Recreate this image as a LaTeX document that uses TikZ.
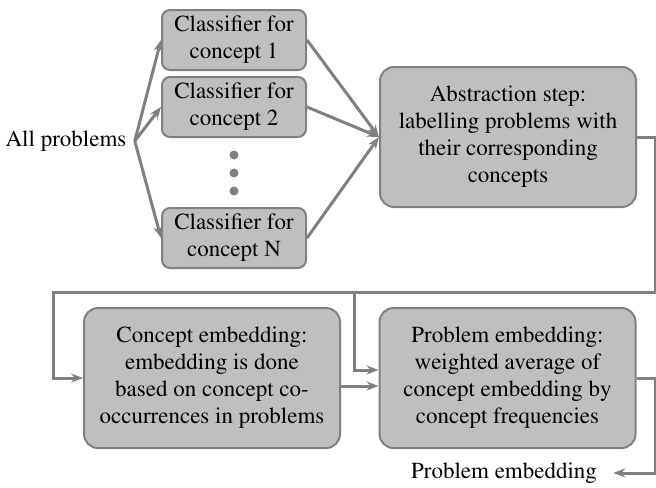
\documentclass[tikz,border=0pt]{standalone}
\usepackage[T1]{fontenc}
\usepackage{mathptmx}
\usetikzlibrary{arrows.meta}
\definecolor{lc}{gray}{0.5}
\definecolor{bf}{gray}{0.75}
\begin{document}
\begin{tikzpicture}[x=0.5pt,y=-0.5pt,
  txt/.style={font=\fontsize{11.5}{13.5}\selectfont},
  box/.style={txt, draw=lc, fill=bf, line width=1pt, rounded corners=7pt, align=center, inner sep=0pt},
  smallbox/.style={box, minimum width=72pt, minimum height=30pt, rounded corners=4pt},
  bigbox/.style={box, minimum width=128pt, minimum height=70pt},
  conn/.style={draw=lc, line width=1.5pt, -{Stealth[length=6pt,width=4.5pt,inset=2pt]}},
  dotn/.style={circle, fill=lc, inner sep=0pt, minimum size=4.5pt}]
\useasboundingbox (0,0) rectangle (656,487);
% nodes
\node[txt, inner xsep=4pt] (allp) at (66,141) {All problems};
\node[smallbox] (c1) at (234,40) {Classifier for\\concept 1};
\node[smallbox] (c2) at (234,107) {Classifier for\\concept 2};
\node[smallbox] (cN) at (234,238) {Classifier for\\concept N};
\node[dotn] (d1) at (234,155) {};
\node[dotn] (d2) at (234,173) {};
\node[dotn] (d3) at (234,191) {};
\node[bigbox] (abs) at (508,137) {Abstraction step:\\labelling problems with\\their corresponding\\concepts};
\node[bigbox] (ce) at (212,378) {Concept embedding:\\embedding is done\\based on concept co-\\occurrences in problems};
\node[bigbox] (pe) at (507.5,378) {Problem embedding:\\weighted average of\\concept embedding by\\concept frequencies};
\node[txt, inner xsep=8pt, inner ysep=1pt] (out) at (504,473) {Problem embedding};
% bend points
\coordinate (a1) at (655,137);
\coordinate (a2) at (655,292);
\coordinate (a3) at (53,292);
\coordinate (a4) at (53,378);
\coordinate (b1) at (354,292);
\coordinate (b2) at (354,370);
\coordinate (p1) at (655,378);
\coordinate (p2) at (655,473);
% connectors
\draw[conn] (allp.east) -- (c1.west);
\draw[conn] (allp.east) -- (c2.west);
\draw[conn] (allp.east) -- (cN.west);
\draw[conn] (c1.east) -- (abs.west);
\draw[conn] (c2.east) -- (abs.west);
\draw[conn] (cN.east) -- (abs.west);
\draw[conn] (abs.east) -- (a1) -- (a2) -- (a3) -- (a4) -- (ce.west);
\draw[conn] (b1) -- (b2) -- (b2 -| pe.west);
\draw[conn] ([yshift=-4pt]ce.east) -- ([yshift=-4pt]pe.west);
\draw[conn] (pe.east) -- (p1) -- (p2) -- (out.east);
\end{tikzpicture}
\end{document}
